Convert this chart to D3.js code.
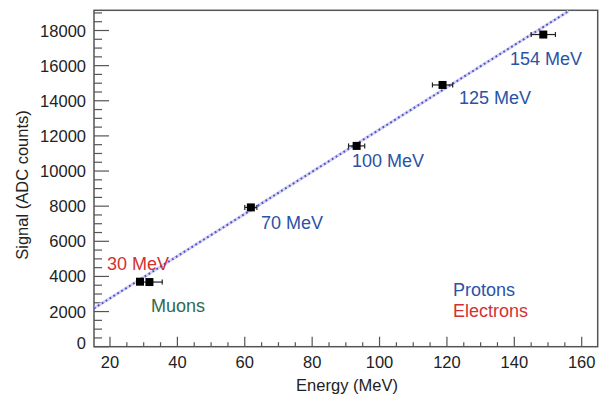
<!DOCTYPE html>
<html><head><meta charset="utf-8">
<script src="https://cdn.jsdelivr.net/npm/d3@7"></script>
<style>body{margin:0;background:#fff}svg{display:block}text{font-family:"Liberation Sans",Arial,sans-serif}</style>
</head><body><svg id="c" width="608" height="398"></svg>
<script>
// Data
const energies = [28.9, 31.7, 61.8, 93.2, 118.7, 148.6];
const signals = [3700, 3680, 7930, 11430, 14900, 17770];
const energyErr = [1.0, 3.8, 1.8, 2.4, 3.0, 3.6];
const fitX = [15.25, 156.1];
const fitY = [2185, 19100];
const xTicks = [20, 40, 60, 80, 100, 120, 140, 160];
const yTicks = [0, 2000, 4000, 6000, 8000, 10000, 12000, 14000, 16000, 18000];
const annotations = [
  {text: "30 MeV", x: 107, y: 270, color: "#d23232"},
  {text: "Muons", x: 151, y: 312, color: "#2f6a50"},
  {text: "70 MeV", x: 261, y: 229, color: "#2a52a6"},
  {text: "100 MeV", x: 352, y: 167, color: "#2a52a6"},
  {text: "125 MeV", x: 459, y: 104, color: "#2a52a6"},
  {text: "154 MeV", x: 510, y: 65, color: "#2a52a6"},
  {text: "Protons", x: 453, y: 296, color: "#2a52a6"},
  {text: "Electrons", x: 453, y: 317, color: "#d23232"}
];

const L = 94, R = 597.7, T = 10.3, B = 346.7;
const svg = d3.select("#c");
const x = d3.scaleLinear().domain([15.25, 164.75]).range([L, R]);
const y = d3.scaleLinear().domain([0, 19150]).range([B, T]);
const axisCol = "#555";

svg.append("clipPath").attr("id","clip").append("rect").attr("x",L).attr("y",T).attr("width",R-L).attr("height",B-T);

const xMinor = d3.range(20, 165, 5);
svg.append("g").selectAll("line").data(xMinor).join("line")
  .attr("x1", d=>x(d)).attr("x2", d=>x(d))
  .attr("y1", B).attr("y2", d => B - (d % 20 === 0 ? 10 : 4.5))
  .attr("stroke", axisCol).attr("stroke-width", 1.2);
const yMinor = d3.range(0, 19100, 500);
svg.append("g").selectAll("line").data(yMinor).join("line")
  .attr("y1", d=>y(d)).attr("y2", d=>y(d))
  .attr("x1", L).attr("x2", d => L + (d % 2000 === 0 ? 15 : 8))
  .attr("stroke", axisCol).attr("stroke-width", 1.2);

svg.append("g").selectAll("text").data(xTicks).join("text")
  .attr("x", d=>x(d)).attr("y", 368).attr("text-anchor","middle")
  .attr("font-size", 16.5).attr("fill","#222").text(d=>d);
svg.append("g").selectAll("text").data(yTicks).join("text")
  .attr("x", 86).attr("y", d=>Math.min(y(d)+6, 349)).attr("text-anchor","end")
  .attr("font-size", 16.5).attr("fill","#222").text(d=>d);

svg.append("rect").attr("x",L).attr("y",T).attr("width",R-L).attr("height",B-T)
  .attr("fill","none").attr("stroke",axisCol).attr("stroke-width",1.5);

svg.append("text").attr("x", 347).attr("y", 391).attr("text-anchor","middle")
  .attr("font-size", 16.5).attr("fill","#222").text("Energy (MeV)");
svg.append("text").attr("transform","translate(28,185) rotate(-90)").attr("text-anchor","middle")
  .attr("font-size", 16.5).attr("fill","#222").text("Signal (ADC counts)");

const fit = fitX.map((v,i)=>[v, fitY[i]]);
const g = svg.append("g").attr("clip-path","url(#clip)");
g.append("path").datum(fit).attr("d", d3.line().x(d=>x(d[0])).y(d=>y(d[1])))
  .attr("stroke","#d4d4f2").attr("stroke-width",3).attr("fill","none");
g.append("path").datum(fit).attr("d", d3.line().x(d=>x(d[0])).y(d=>y(d[1])))
  .attr("stroke","#5050c8").attr("stroke-width",2).attr("stroke-dasharray","1.8,2.8").attr("fill","none");

const pts = energies.map((e,i)=>({e, s: signals[i], err: energyErr[i]}));
const eg = svg.append("g");
pts.forEach(p => {
  const cy = y(p.s), x0 = x(p.e - p.err), x1 = x(p.e + p.err);
  eg.append("line").attr("x1",x0).attr("x2",x1).attr("y1",cy).attr("y2",cy).attr("stroke","#222").attr("stroke-width",1.2);
  [x0,x1].forEach(xx => eg.append("line").attr("x1",xx).attr("x2",xx).attr("y1",cy-2.5).attr("y2",cy+2.5).attr("stroke","#222").attr("stroke-width",1.2));
});
eg.selectAll("rect").data(pts).join("rect")
  .attr("x", d=>x(d.e)-4).attr("y", d=>y(d.s)-4).attr("width",8).attr("height",8).attr("fill","#000");

svg.append("g").selectAll("text").data(annotations).join("text")
  .attr("x", d=>d.x).attr("y", d=>d.y).attr("font-size", 18).attr("fill", d=>d.color).text(d=>d.text);
</script></body></html>
